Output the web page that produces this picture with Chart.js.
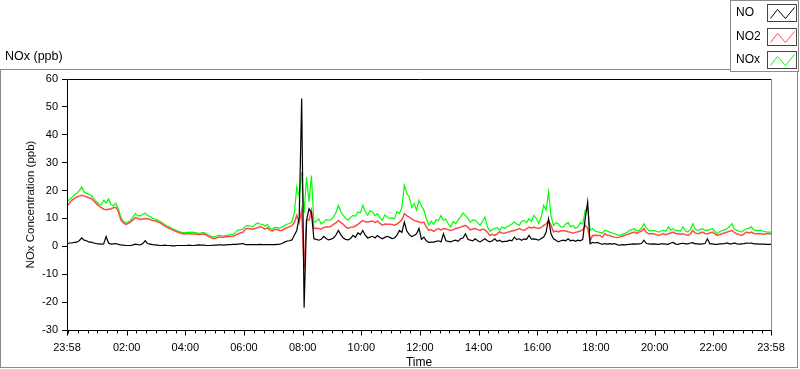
<!DOCTYPE html>
<html>
<head>
<meta charset="utf-8">
<script src="https://cdn.jsdelivr.net/npm/chart.js@4"></script>
<style>
html, body { margin: 0; padding: 0; background: #fff; }
#wrap { width: 800px; height: 369px; }
</style>
</head>
<body>
<div id="wrap"><canvas id="noxChart" width="800" height="369"></canvas></div>
<script>
// Time axis: one day starting 23:58, samples every 5 minutes
const startClock = 23 * 60 + 58;
const stepMinutes = 5;
const timeTicks = [0, 122, 242, 362, 482, 602, 722, 842, 962, 1082, 1202, 1322, 1440];
const yMin = -30, yMax = 60, yStep = 10;

const seriesNames = ['NO', 'NO2', 'NOx'];
const seriesColors = ['#000000', '#ff4a4a', '#00ff00'];
const seriesWidths = [1.2, 1.5, 1.2];

// one row per hour (12 samples), last value is 23:58 next day
const noValues = [
    1.0, 1.2, 1.2, 1.4, 1.5, 2.0, 3.0, 2.2, 2.0, 1.5, 1.5, 1.2,
    1.0, 0.9, 0.8, 0.9, 3.5, 1.2, 0.8, 0.9, 1.0, 0.7, 0.5, 0.4,
    0.3, 0.3, 0.3, 0.5, 0.8, 0.6, 0.5, 1.0, 2.0, 1.0, 0.8, 0.6,
    0.5, 0.4, 0.3, 0.3, 0.4, 0.3, 0.3, 0.2, 0.2, 0.3, 0.3, 0.3,
    0.3, 0.3, 0.4, 0.3, 0.3, 0.4, 0.5, 0.4, 0.4, 0.3, 0.3, 0.3,
    0.4, 0.4, 0.5, 0.5, 0.4, 0.5, 0.6, 0.6, 0.7, 0.7, 0.8, 0.9,
    1.0, 0.6, 0.6, 0.6, 0.6, 0.6, 0.6, 0.7, 0.6, 0.6, 0.6, 0.6,
    0.6, 0.6, 0.7, 0.8, 1.0, 1.5, 1.9, 2.0, 2.3, 4.0, 5.7, 10.5,
    53, -22, 9.3, 13.5, 12, 2.7, 2.5, 2.2, 2.5, 3.6, 2.8, 2.3,
    2.6, 3.0, 4.0, 5.7, 4.2, 3.0, 2.5, 2.3, 2.8, 3.9, 3.2, 4.8,
    4.2, 5.7, 4.0, 3.0, 3.3, 3.6, 3.0, 3.9, 3.2, 2.7, 3.2, 3.6,
    3.2, 2.8, 3.0, 4.0, 5.7, 5.0, 8.7, 5.5, 4.3, 3.5, 3.9, 4.5,
    6.4, 2.5, 3.3, 2.0, 1.4, 1.5, 1.5, 1.8, 2.0, 1.6, 4.5, 2.0,
    1.8, 1.6, 2.0, 2.2, 1.8, 2.7, 3.0, 4.5, 2.5, 2.2, 2.0, 2.7,
    2.0, 1.6, 2.2, 2.7, 2.0, 1.6, 2.0, 2.7, 1.8, 2.2, 1.6, 1.8,
    1.8, 2.2, 2.0, 3.3, 2.4, 2.7, 2.2, 2.7, 2.5, 3.9, 2.6, 2.7,
    2.5, 2.2, 2.8, 3.3, 5.0, 9.9, 4.5, 2.7, 2.2, 1.6, 2.0, 2.2,
    2.0, 2.7, 2.0, 2.2, 1.8, 2.2, 2.0, 2.5, 10.0, 15.9, 0.9, 1.4,
    1.2, 1.4, 1.0, 0.7, 1.0, 0.8, 1.0, 0.8, 1.0, 0.6, 0.4, 0.6,
    0.5, 0.6, 0.7, 0.8, 0.9, 0.8, 0.9, 1.0, 2.2, 1.0, 0.9, 0.8,
    0.9, 0.8, 0.7, 0.9, 0.9, 0.8, 0.7, 1.2, 1.4, 0.8, 0.7, 1.0,
    1.1, 0.9, 0.9, 1.2, 1.3, 0.9, 0.9, 0.8, 0.9, 1.0, 2.7, 0.9,
    0.9, 0.7, 0.7, 0.9, 0.9, 1.0, 1.2, 0.9, 0.9, 1.2, 0.9, 0.8,
    0.9, 1.0, 1.2, 1.1, 1.2, 0.9, 0.9, 0.8, 0.8, 0.8, 0.7, 0.7,
    0.7
];

const no2Values = [
    14.5, 15.5, 16.5, 17.2, 17.7, 18.0, 18.3, 18.0, 17.7, 17.4, 17.1, 16.2,
    15.3, 14.5, 13.9, 13.3, 13.1, 13.3, 13.5, 13.8, 14.0, 12.5, 9.5, 8.5,
    7.9, 8.2, 8.8, 9.5, 10.3, 10.0, 9.6, 9.8, 10.0, 9.8, 9.6, 9.3,
    9.1, 8.8, 8.5, 7.9, 7.3, 6.8, 6.4, 6.0, 5.6, 5.2, 4.9, 4.6,
    4.4, 4.5, 4.5, 4.4, 4.4, 4.3, 4.2, 4.3, 4.4, 4.0, 3.5, 3.1,
    2.7, 3.0, 3.3, 3.3, 3.3, 3.4, 3.5, 3.5, 3.6, 4.0, 4.5, 4.8,
    5.1, 6.2, 6.5, 6.3, 6.1, 6.4, 6.7, 7.0, 6.7, 6.2, 6.7, 5.8,
    5.5, 6.0, 6.0, 5.7, 5.7, 6.3, 6.7, 7.0, 7.4, 8.5, 11.1, 8.5,
    12.9, -8, 9.5, 9.3, 12.9, 6.4, 6.5, 6.4, 6.2, 6.7, 7.0, 6.9,
    7.2, 7.9, 8.4, 9.3, 8.6, 7.9, 7.0, 6.4, 6.8, 6.9, 7.3, 7.9,
    8.6, 9.3, 8.8, 8.7, 8.9, 9.1, 8.5, 9.1, 8.2, 7.6, 8.0, 7.9,
    7.9, 7.8, 7.6, 8.0, 8.7, 9.5, 11.7, 11.0, 10.5, 9.8, 9.3, 9.0,
    8.7, 8.5, 8.7, 7.0, 5.7, 6.0, 5.3, 6.0, 6.4, 5.8, 6.4, 6.2,
    6.0, 5.7, 6.0, 6.4, 6.6, 6.9, 7.2, 7.5, 6.8, 5.9, 6.2, 6.4,
    6.0, 5.7, 6.2, 5.9, 5.0, 3.9, 4.3, 3.9, 4.5, 5.2, 4.8, 4.7,
    5.0, 5.2, 5.5, 5.7, 6.0, 6.4, 6.0, 5.7, 6.3, 6.9, 6.5, 6.9,
    6.6, 6.4, 6.8, 7.5, 8.0, 9.3, 7.5, 5.2, 5.5, 5.2, 5.6, 5.7,
    5.5, 5.2, 5.0, 4.7, 5.0, 5.2, 5.5, 6.0, 7.5, 6.5, 2.0, 3.9,
    4.0, 3.9, 3.9, 3.3, 4.5, 4.0, 3.9, 3.5, 3.3, 3.2, 3.3, 3.6,
    3.9, 4.2, 4.5, 4.8, 5.1, 4.6, 5.1, 5.5, 6.3, 5.0, 4.5, 4.5,
    4.5, 4.2, 3.9, 4.3, 4.5, 4.2, 4.5, 4.8, 5.1, 4.6, 4.5, 4.3,
    4.5, 4.2, 3.9, 4.5, 5.7, 4.8, 4.5, 4.8, 5.1, 4.6, 4.5, 4.8,
    5.1, 4.5, 3.9, 4.2, 4.5, 4.8, 5.1, 5.4, 5.7, 5.0, 4.5, 4.2,
    3.9, 4.5, 5.1, 4.8, 5.1, 4.6, 4.5, 4.5, 4.5, 4.3, 4.5, 4.5,
    4.5
];

const noxValues = [
    16, 16.8, 17.5, 18.5, 19, 20, 21.3, 19.5, 19, 18.6, 18.2, 17,
    16, 15.2, 14.8, 16.5, 15.5, 17, 15, 14.5, 15.5, 13.5, 10.5, 9.0,
    8.5, 8.8, 9.3, 10.5, 11.8, 11.0, 11.0, 11.5, 11.9, 11.0, 10.8, 10.0,
    9.8, 9.4, 9.0, 8.4, 7.8, 7.3, 6.9, 6.4, 6.0, 5.6, 5.2, 5.0,
    4.9, 5.0, 5.0, 5.1, 5.0, 4.8, 4.6, 4.8, 4.9, 4.5, 4.0, 3.6,
    3.3, 3.6, 3.9, 3.8, 3.7, 3.9, 4.0, 4.2, 4.3, 5.0, 5.9, 6.0,
    6.2, 7.2, 7.5, 7.3, 6.9, 7.8, 8.4, 8.0, 7.9, 7.2, 7.9, 6.5,
    6.1, 6.8, 6.7, 6.5, 6.9, 7.5, 7.9, 8.2, 8.7, 12, 21.3, 18,
    26.5, 12, 24.8, 16, 25.4, 8.7, 9.0, 9.9, 8.0, 8.7, 9.6, 9.4,
    9.5, 10.5, 12.0, 14.7, 12.5, 11.1, 10.0, 9.4, 10.4, 11.1, 10.8, 12.3,
    12.0, 14.7, 12.5, 11.1, 12.8, 12.3, 11.0, 11.7, 10.3, 9.4, 11.2, 10.5,
    10.0, 10.2, 9.9, 12.5, 11.7, 14.0, 21.9, 19.0, 17.7, 14.0, 15.3, 13.0,
    16.5, 14.5, 12.9, 10.0, 7.5, 9.0, 7.9, 9.5, 9.3, 11.0, 9.3, 9.8,
    8.0, 6.9, 8.8, 8.1, 9.5, 10.5, 12.0, 11.1, 10.0, 8.7, 9.5, 9.3,
    8.5, 7.5, 9.0, 10.5, 7.0, 5.3, 6.0, 6.4, 6.8, 5.7, 7.0, 6.4,
    7.0, 7.5, 8.0, 8.7, 8.0, 7.5, 9.0, 9.3, 8.5, 9.9, 9.0, 11.1,
    10.0, 8.1, 10.5, 14.7, 13.0, 19.5, 11.0, 7.5, 8.5, 8.1, 7.0, 6.9,
    8.0, 8.5, 7.0, 7.5, 6.5, 6.9, 8.5, 8.0, 12.9, 13.5, 5.7, 6.4,
    5.5, 5.2, 5.1, 4.7, 5.7, 5.5, 5.1, 4.8, 4.5, 4.2, 3.9, 4.3,
    4.5, 5.0, 5.7, 6.0, 6.3, 5.5, 5.7, 6.5, 8.1, 6.5, 5.7, 5.5,
    5.7, 5.4, 5.1, 5.5, 5.7, 5.5, 7.0, 5.8, 6.3, 5.6, 5.7, 5.5,
    7.0, 5.6, 5.1, 6.0, 8.1, 6.2, 5.7, 6.0, 6.3, 5.8, 5.7, 6.0,
    6.3, 5.4, 4.5, 5.2, 5.7, 6.0, 6.3, 7.0, 8.1, 6.2, 5.7, 5.4,
    5.1, 5.8, 6.3, 6.5, 7.0, 5.8, 5.7, 5.7, 5.7, 5.4, 5.2, 5.1,
    5.1
];

const FONT = 'Liberation Sans, Arial, sans-serif';

function clockLabel(minutes) {
    const t = (startClock + minutes) % 1440;
    const h = Math.floor(t / 60), m = t % 60;
    return String(h).padStart(2, '0') + ':' + String(m).padStart(2, '0');
}

function toPoints(values) {
    return values.map((v, i) => ({ x: i * stepMinutes, y: v }));
}

// frame, legend, header label and x tick marks in the LabVIEW look
const decorPlugin = {
    id: 'decor',
    beforeDraw(chart) {
        const ctx = chart.ctx;
        ctx.save();
        ctx.fillStyle = '#ffffff';
        ctx.fillRect(0, 0, chart.width, chart.height);
        ctx.restore();
    },
    afterDraw(chart) {
        const ctx = chart.ctx;
        const area = chart.chartArea;
        const xScale = chart.scales.x;
        ctx.save();
        ctx.lineWidth = 1;

        // outer frame
        ctx.strokeStyle = '#8a8a8a';
        ctx.strokeRect(0.5, 69.5, 797, 298);

        // plot box: black top/left/bottom, gray right
        const l = Math.round(area.left) + 0.5, r = Math.round(area.right) + 0.5;
        const t = Math.round(area.top) + 0.5, b = Math.round(area.bottom) + 0.5;
        ctx.strokeStyle = '#000';
        ctx.beginPath();
        ctx.moveTo(r, t); ctx.lineTo(l, t); ctx.lineTo(l, b); ctx.lineTo(r, b);
        ctx.stroke();
        ctx.strokeStyle = '#8a8a8a';
        ctx.beginPath();
        ctx.moveTo(r, t); ctx.lineTo(r, b);
        ctx.stroke();

        // x tick marks: major at labels, minor every 20 minutes of clock time
        ctx.strokeStyle = '#000';
        ctx.beginPath();
        timeTicks.forEach(v => {
            const px = Math.round(xScale.getPixelForValue(v)) + 0.5;
            ctx.moveTo(px, b); ctx.lineTo(px, b + 5);
        });
        for (let v = 2; v < 1440; v += 20) {
            if (timeTicks.includes(v)) continue;
            const px = Math.round(xScale.getPixelForValue(v)) + 0.5;
            ctx.moveTo(px, b); ctx.lineTo(px, b + 3);
        }
        ctx.stroke();

        // header label
        ctx.fillStyle = '#000';
        ctx.font = '12.5px ' + FONT;
        ctx.textBaseline = 'middle';
        ctx.textAlign = 'left';
        ctx.fillText('NOx (ppb)', 5, 57);

        // legend box
        ctx.fillStyle = '#fff';
        ctx.fillRect(730, 0, 70, 72);
        ctx.strokeStyle = '#8a8a8a';
        ctx.strokeRect(730.5, 0.5, 68, 71);
        chart.data.datasets.forEach((ds, i) => {
            const rowY = 13 + i * 23.5;
            ctx.fillStyle = '#000';
            ctx.font = '12px ' + FONT;
            ctx.fillText(ds.label, 736, rowY);
            const bx = 767.5, by = Math.round(rowY - 9) + 0.5;
            ctx.lineWidth = 1;
            ctx.strokeStyle = '#444';
            ctx.strokeRect(bx, by, 29, 17);
            ctx.strokeStyle = ds.borderColor;
            ctx.beginPath();
            ctx.moveTo(bx + 3, by + 14);
            ctx.lineTo(bx + 10, by + 5);
            ctx.lineTo(bx + 18, by + 14);
            ctx.lineTo(bx + 27, by + 3);
            ctx.stroke();
        });
        ctx.restore();
    }
};

const ctx = document.getElementById('noxChart').getContext('2d');
const valueSets = [noValues, no2Values, noxValues];

new Chart(ctx, {
    type: 'line',
    data: {
        datasets: seriesNames.map((name, i) => ({
            label: name,
            data: toPoints(valueSets[i]),
            borderColor: seriesColors[i],
            borderWidth: seriesWidths[i],
            pointRadius: 0,
            tension: 0,
            fill: false
        }))
    },
    options: {
        responsive: false,
        animation: false,
        events: [],
        layout: { padding: { top: 79, right: 29, bottom: 0, left: 0 } },
        plugins: {
            legend: { display: false },
            tooltip: { enabled: false }
        },
        scales: {
            x: {
                type: 'linear',
                min: 0,
                max: 1440,
                afterBuildTicks: s => { s.ticks = timeTicks.map(v => ({ value: v })); },
                afterFit: s => { s.height = 39; },
                grid: { display: false, drawTicks: false },
                border: { display: false },
                ticks: {
                    autoSkip: false,
                    maxRotation: 0,
                    padding: 11,
                    color: '#000',
                    font: { family: FONT, size: 11 },
                    callback: v => clockLabel(v)
                },
                title: {
                    display: true,
                    text: 'Time',
                    color: '#000',
                    font: { family: FONT, size: 12 },
                    padding: { top: 0, bottom: -1 }
                }
            },
            y: {
                min: yMin,
                max: yMax,
                afterFit: s => { s.width = 67; },
                grid: { drawOnChartArea: false, drawTicks: true, tickLength: 5, color: '#000' },
                border: { display: false },
                ticks: {
                    stepSize: yStep,
                    padding: 4,
                    color: '#000',
                    font: { family: FONT, size: 11 }
                },
                title: {
                    display: true,
                    text: 'NOx Concentration (ppb)',
                    color: '#111',
                    font: { family: FONT, size: 11.5 },
                    padding: { top: 24, bottom: 0 }
                }
            }
        }
    },
    plugins: [decorPlugin]
});
</script>
</body>
</html>
